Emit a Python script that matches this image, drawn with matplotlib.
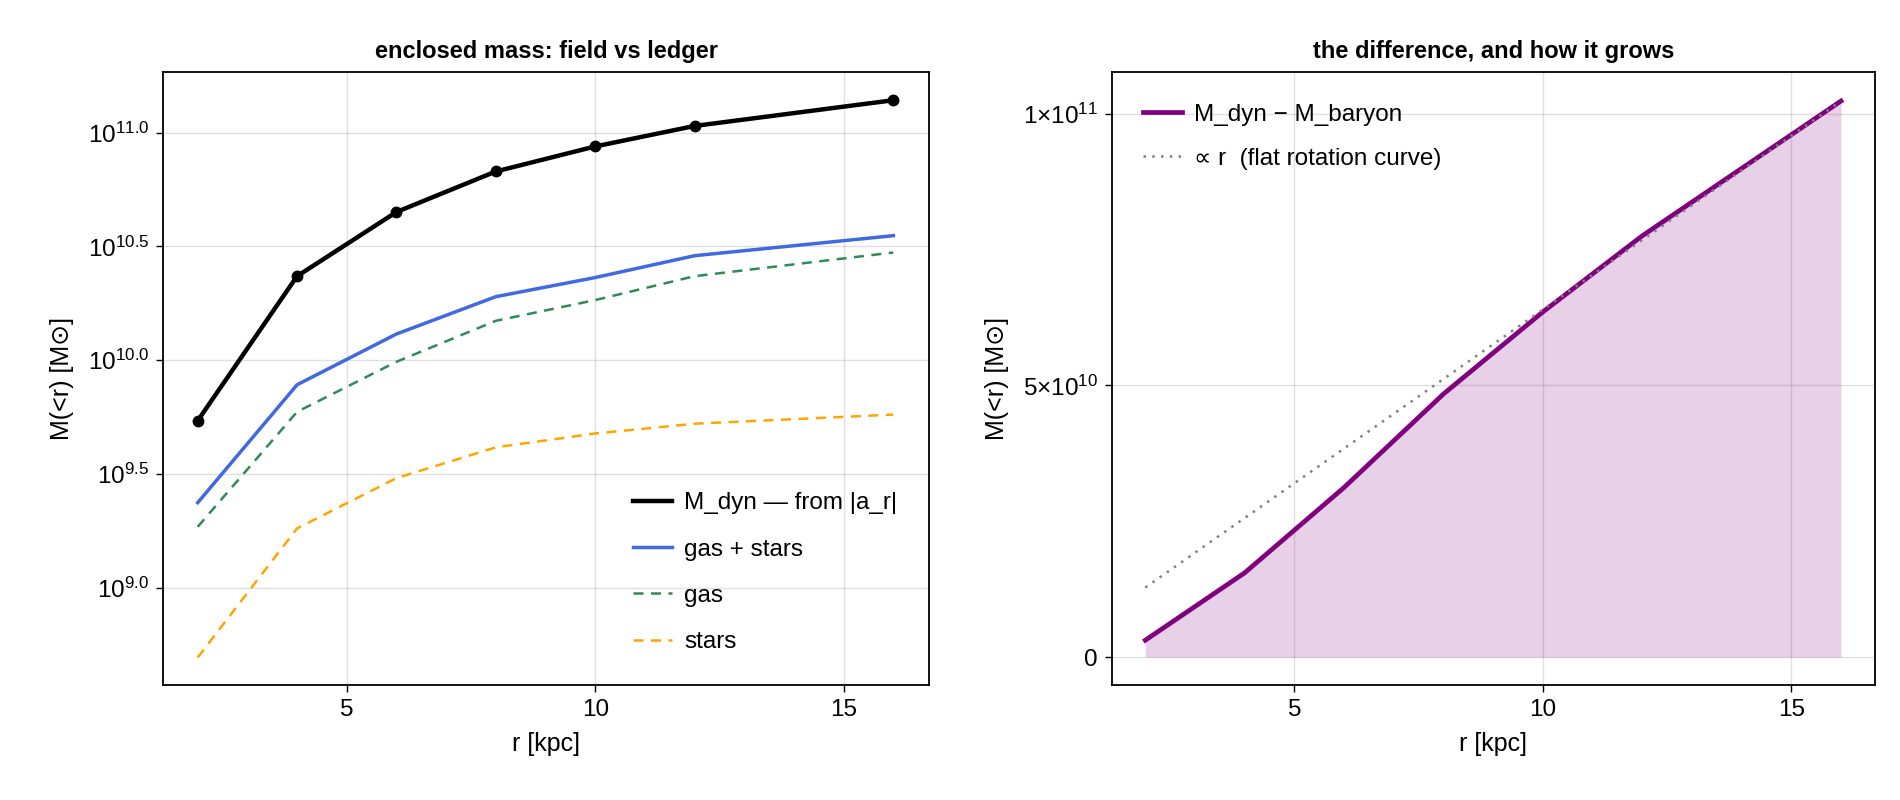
import numpy as np
import matplotlib
matplotlib.use("Agg")
import matplotlib.pyplot as plt

plt.rcParams['font.family'] = ['Liberation Sans', 'DejaVu Sans']
plt.rcParams['mathtext.fontset'] = 'custom'
plt.rcParams['mathtext.rm'] = 'Liberation Sans'
plt.rcParams['mathtext.it'] = 'Liberation Sans:italic'

# data
r = [2, 4, 6, 8, 10, 12, 16]               # kpc
log_mdyn = [9.734, 10.369, 10.651, 10.829, 10.939, 11.029, 11.142]
log_baryon = [9.374, 9.892, 10.115, 10.279, 10.363, 10.459, 10.547]
log_gas = [9.268, 9.773, 9.993, 10.173, 10.264, 10.369, 10.473]
log_stars = [8.694, 9.261, 9.482, 9.617, 9.678, 9.721, 9.761]

m_diff = [3.1e9, 1.55e10, 3.12e10, 4.84e10, 6.35e10, 7.75e10, 1.023e11]
r_flat = [2, 16]
m_flat = [1.28e10, 1.023e11]

log_ticks = [9.0, 9.5, 10.0, 10.5, 11.0]

fig = plt.figure(figsize=(19, 8), dpi=100)
ax1 = fig.add_axes([0.086, 0.144, 0.403, 0.766])
ax2 = fig.add_axes([0.585, 0.144, 0.402, 0.766])

def style(ax):
    ax.grid(True, color='black', alpha=0.12, linewidth=1)
    ax.set_axisbelow(True)
    ax.tick_params(labelsize=17.5, direction='out', length=5, width=1,
                   top=False, right=False, pad=5)
    for s in ax.spines.values():
        s.set_linewidth(1.3)
    ax.set_xticks([5, 10, 15])
    ax.set_xlabel('r [kpc]', fontsize=18, labelpad=8)
    ax.set_ylabel('M(<r) [M\u2299]', fontsize=18, labelpad=10)

# left: enclosed mass (log)
ax1.plot(r, log_mdyn, color='black', lw=3.2, label='M_dyn \u2014 from |a_r|')
ax1.plot(r, log_mdyn, color='black', lw=0, marker='o', ms=7.5)
ax1.plot(r, log_baryon, color='royalblue', lw=2.5, label='gas + stars')
ax1.plot(r, log_gas, color='seagreen', lw=1.8, ls=(0, (4, 3)), label='gas')
ax1.plot(r, log_stars, color='orange', lw=1.8, ls=(0, (4, 3)), label='stars')
ax1.set_yticks(log_ticks)
ax1.set_yticklabels([r'$10^{%.1f}$' % t for t in log_ticks])
ax1.set_xlim(1.31, 16.72)
ax1.set_ylim(8.574, 11.266)
ax1.set_title('enclosed mass: field vs ledger', fontsize=17,
              fontweight='bold', pad=10)
style(ax1)
ax1.legend(loc='lower right', frameon=False, fontsize=17.5, handlelength=1.6,
           labelspacing=1.0, borderaxespad=0.9, handletextpad=0.5)

# right: the difference
ax2.fill_between(r, 0, m_diff, color='purple', alpha=0.18, lw=0)
ax2.plot(r, m_diff, color='purple', lw=3.4, label='M_dyn \u2212 M_baryon')
ax2.plot(r_flat, m_flat, color='gray', lw=1.8, ls=(0, (1, 2.5)),
         label='\u221d r  (flat rotation curve)')
ax2.set_yticks([0, 5e10, 1e11])
ax2.set_yticklabels(['0', r'$5{\times}10^{10}$', r'$1{\times}10^{11}$'])
ax2.set_xlim(1.32, 16.69)
ax2.set_ylim(-5.1e9, 1.0764e11)
ax2.set_title('the difference, and how it grows', fontsize=17,
              fontweight='bold', pad=10)
style(ax2)
ax2.legend(loc='upper left', frameon=False, fontsize=17.5, handlelength=1.6,
           labelspacing=0.9, borderaxespad=0.9, handletextpad=0.5)

fig.savefig('out.png', dpi=100)
